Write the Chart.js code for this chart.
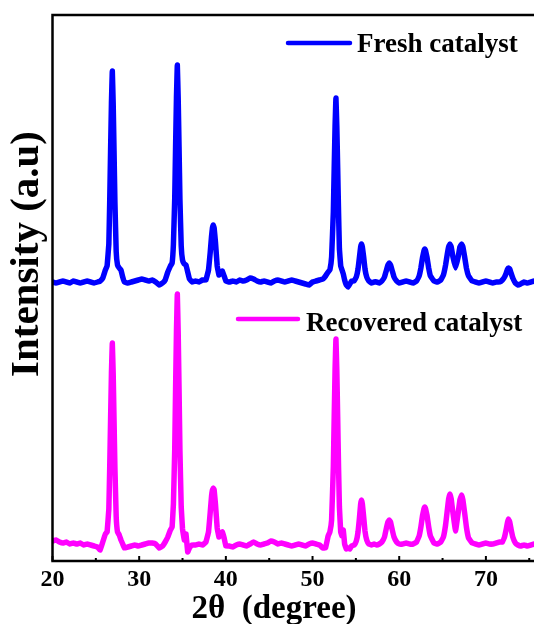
<!DOCTYPE html>
<html>
<head>
<meta charset="utf-8">
<title>XRD</title>
<script src="https://cdn.jsdelivr.net/npm/chart.js@4.4.1/dist/chart.umd.min.js"></script>
<style>
  html, body { margin: 0; padding: 0; background: #fff; overflow: hidden; }
  #wrap { width: 534px; height: 624px; }
</style>
</head>
<body>
<div id="wrap"><canvas id="xrd" width="534" height="624"></canvas></div>
<script>
// 2-theta positions (degree), shared by both patterns
const twoTheta = [
  20.0, 20.4, 20.8, 21.2, 21.6, 22.0, 22.4, 22.8, 23.2, 23.6, 24.0, 24.4, 24.8, 25.2,
  25.5, 25.8, 26.1, 26.3, 26.5, 26.6, 26.7, 26.8, 26.9, 27.0, 27.1, 27.2, 27.35, 27.5, 27.7, 27.9, 28.1, 28.3,
  28.7, 29.1, 29.5, 29.9, 30.3, 30.7, 31.1, 31.5, 31.9, 32.3, 32.7, 33.0,
  33.3, 33.6, 33.8, 33.95, 34.1, 34.2, 34.3, 34.4, 34.5, 34.6, 34.7, 34.85, 35.0, 35.2, 35.4, 35.6, 35.8, 36.1,
  36.5, 36.9, 37.3, 37.7, 38.0, 38.2, 38.35, 38.45, 38.55, 38.65, 38.8, 39.0, 39.2, 39.4, 39.6, 39.8, 40.0,
  40.4, 40.8, 41.2, 41.6, 42.0, 42.4, 42.8, 43.2, 43.6, 44.0, 44.4, 44.8, 45.2, 45.6, 46.0, 46.4, 46.8, 47.2, 47.6, 48.0, 48.4, 48.8, 49.2, 49.6, 50.0, 50.4, 50.8, 51.2,
  51.5, 51.8, 52.0, 52.2, 52.4, 52.5, 52.6, 52.7, 52.8, 52.9, 53.0, 53.1, 53.25, 53.4, 53.55, 53.7, 53.9, 54.1, 54.3, 54.5,
  54.8, 55.05, 55.25, 55.4, 55.55, 55.65, 55.75, 55.9, 56.05, 56.25, 56.5, 56.8, 57.1,
  57.4, 57.7, 58.0, 58.3, 58.5, 58.7, 58.85, 59.0, 59.2, 59.4, 59.7, 60.0,
  60.4, 60.8, 61.2, 61.6, 62.0, 62.3, 62.5, 62.7, 62.85, 62.95, 63.05, 63.2, 63.4, 63.6, 64.0,
  64.4, 64.8, 65.1, 65.35, 65.55, 65.7, 65.85, 66.0, 66.2, 66.5, 66.8, 67.0, 67.2, 67.35, 67.55, 67.75, 68.0, 68.4,
  68.8, 69.2, 69.6, 70.0, 70.4, 70.8, 71.2, 71.6, 71.9, 72.15, 72.35, 72.5, 72.6, 72.75, 72.9, 73.1, 73.4, 73.7, 74.0, 74.4, 74.8, 75.2, 75.6
];

// fresh catalyst, stacked above the recovered one
const freshIntensity = [
  280, 279, 280, 281, 280, 279, 281, 280, 279, 280, 281, 280, 279, 280,
  281, 284, 292, 296, 318, 360, 411, 459, 491, 459, 411, 360, 310, 297, 294, 292, 285, 280,
  279, 280, 281, 282, 283, 282, 281, 282, 280, 277, 279, 282,
  290, 296, 299, 318, 363, 415, 464, 497, 464, 415, 363, 316, 302, 298, 297, 290, 283, 280,
  281, 280, 282, 282, 292, 310, 326, 334, 337, 334, 320, 296, 287, 289, 291, 286, 281,
  280, 281, 280, 282, 281, 282, 284, 283, 281, 280, 281, 280, 279, 281, 282, 281, 280, 281, 282, 281, 280, 279, 278, 277, 280, 281, 282, 283,
  286, 290, 292, 305, 350, 394, 436, 464, 436, 394, 350, 313, 296, 292, 288, 282, 277, 275, 278, 281,
  281, 285, 293, 304, 315, 318, 315, 305, 293, 285, 281, 279, 280,
  280, 279, 281, 285, 291, 297, 299, 297, 291, 285, 281, 279,
  280, 281, 280, 279, 281, 286, 294, 305, 311, 313, 311, 305, 294, 286, 281,
  280, 282, 287, 297, 308, 315, 318, 315, 305, 294, 305, 315, 318, 315, 305, 294, 286, 281,
  280, 279, 280, 281, 280, 279, 280, 280, 282, 285, 289, 293, 294, 293, 289, 284, 279, 277, 278, 280, 279, 280, 281
];

// recovered catalyst
const recoveredIntensity = [
  21, 22, 20, 19, 20, 18, 19, 18, 19, 17, 18, 17, 16, 15,
  12, 20, 28, 30, 53, 94, 142, 189, 219, 189, 142, 94, 45, 30, 27, 22, 18, 14,
  15, 16, 17, 16, 17, 18, 19, 19, 18, 14, 16, 20,
  25, 32, 35, 58, 112, 173, 230, 268, 230, 173, 112, 55, 33, 22, 28, 10, 14, 17,
  17, 18, 17, 20, 30, 50, 66, 72, 74, 72, 58, 34, 25, 28, 30, 24, 16,
  16, 15, 17, 18, 17, 16, 18, 20, 18, 17, 18, 19, 21, 20, 18, 19, 18, 17, 16, 17, 18, 17, 16, 18, 19, 18, 17, 14,
  14, 26, 30, 42, 95, 145, 192, 223, 192, 145, 95, 55, 30, 26, 32, 18, 13, 14, 13, 16,
  17, 21, 30, 43, 58, 62, 58, 45, 31, 22, 18, 17, 18,
  17, 18, 20, 25, 33, 40, 42, 40, 32, 25, 20, 18,
  18, 19, 18, 18, 20, 26, 35, 47, 53, 55, 53, 47, 35, 26, 19,
  18, 20, 25, 37, 52, 63, 68, 63, 49, 31, 49, 62, 67, 62, 49, 35, 24, 19,
  18, 17, 18, 19, 18, 18, 19, 20, 20, 25, 33, 40, 43, 40, 33, 25, 19, 17, 16, 17, 16, 17, 18
];

const seriesNames = ['Fresh catalyst', 'Recovered catalyst'];
const seriesColors = ['#0000ff', '#ff00ff'];
const xTickValues = [20, 30, 40, 50, 60, 70];
const xMinorValues = [25, 35, 45, 55, 65, 75];
const xTitle = '2\u03b8  (degree)';
const yTitle = 'Intensity (a.u)';

const serif = "'Liberation Serif', 'Times New Roman', serif";

function toPoints(ys) {
  return twoTheta.map((t, i) => ({ x: t, y: ys[i] }));
}

// frame, inward ticks, axis titles and the two in-plot legend entries
const decorations = {
  id: 'decorations',
  afterDraw(chart) {
    const ctx = chart.ctx;
    const area = chart.chartArea;
    const xs = chart.scales.x;

    ctx.save();
    ctx.strokeStyle = '#000';
    ctx.lineWidth = 2.5;
    ctx.beginPath();
    ctx.moveTo(area.right + 2, area.top);
    ctx.lineTo(area.left, area.top);
    ctx.lineTo(area.left, area.bottom);
    ctx.lineTo(area.right + 2, area.bottom);
    ctx.stroke();

    ctx.lineWidth = 2;
    xTickValues.forEach(v => {
      const px = xs.getPixelForValue(v);
      ctx.beginPath();
      ctx.moveTo(px, area.bottom);
      ctx.lineTo(px, area.bottom - 5);
      ctx.stroke();
    });
    xMinorValues.forEach(v => {
      if (v > xs.max) return;
      const px = xs.getPixelForValue(v);
      ctx.beginPath();
      ctx.moveTo(px, area.bottom);
      ctx.lineTo(px, area.bottom - 3);
      ctx.stroke();
    });

    ctx.fillStyle = '#000';
    ctx.font = 'bold 33px ' + serif;
    ctx.textAlign = 'center';
    ctx.textBaseline = 'alphabetic';
    ctx.fillText(xTitle, 274, 618);

    ctx.save();
    ctx.translate(38, 254);
    ctx.rotate(-Math.PI / 2);
    ctx.font = 'bold 41px ' + serif;
    ctx.fillText(yTitle, 0, 0);
    ctx.restore();

    const legendSpots = [
      { x1: 288, x2: 350, y: 43, tx: 357, ty: 52 },
      { x1: 238, x2: 298, y: 319, tx: 306, ty: 331 }
    ];
    ctx.font = 'bold 27px ' + serif;
    ctx.textAlign = 'left';
    ctx.lineCap = 'round';
    legendSpots.forEach((s, i) => {
      ctx.strokeStyle = seriesColors[i];
      ctx.lineWidth = 4.5;
      ctx.beginPath();
      ctx.moveTo(s.x1, s.y);
      ctx.lineTo(s.x2, s.y);
      ctx.stroke();
      ctx.fillText(seriesNames[i], s.tx, s.ty);
    });
    ctx.restore();
  }
};

new Chart(document.getElementById('xrd'), {
  type: 'line',
  data: {
    datasets: [
      { label: seriesNames[0], data: toPoints(freshIntensity) },
      { label: seriesNames[1], data: toPoints(recoveredIntensity) }
    ].map((d, i) => Object.assign(d, {
      borderColor: seriesColors[i],
      borderWidth: 5.5,
      pointRadius: 0,
      // a little tension keeps Chart.js off its per-pixel fast path,
      // which would otherwise collapse the narrow peaks
      tension: 0.05,
      fill: false,
      borderJoinStyle: 'round',
      borderCapStyle: 'round'
    }))
  },
  options: {
    responsive: false,
    animation: false,
    layout: { padding: { left: 52.5, top: 15, right: 0, bottom: 26.2 } },
    plugins: { legend: { display: false }, tooltip: { enabled: false } },
    scales: {
      x: {
        type: 'linear',
        min: 20,
        max: 75.55,
        grid: { display: false, drawTicks: false },
        border: { display: false },
        ticks: {
          stepSize: 10,
          includeBounds: false,
          padding: 4,
          color: '#000',
          font: { family: serif, size: 24, weight: 'bold' },
          callback: v => (xTickValues.includes(v) ? v : '')
        }
      },
      y: {
        display: false,
        min: 1,
        max: 547
      }
    }
  },
  plugins: [decorations]
});
</script>
</body>
</html>
